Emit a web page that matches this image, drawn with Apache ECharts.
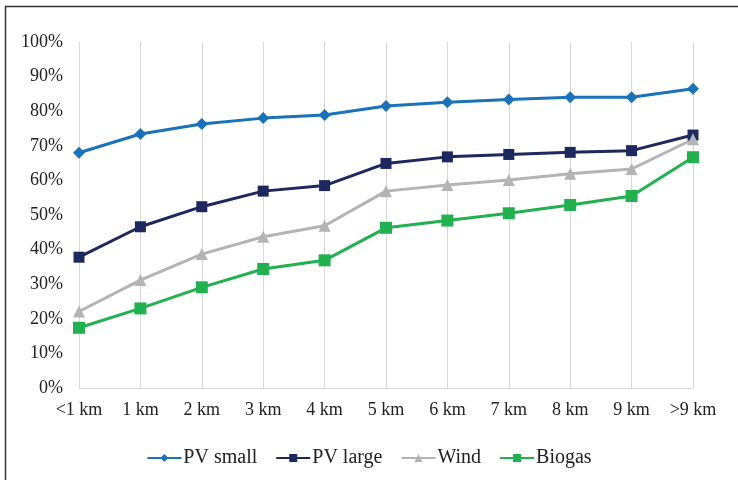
<!DOCTYPE html>
<html><head><meta charset="utf-8">
<script src="https://cdn.jsdelivr.net/npm/echarts@6/dist/echarts.min.js"></script>
<style>html,body{margin:0;padding:0;background:#fff}#c{width:738px;height:480px}</style>
</head><body><div id="c"></div>
<script>
const categories = ['<1 km','1 km','2 km','3 km','4 km','5 km','6 km','7 km','8 km','9 km','>9 km'];
const pvSmall = [68.0, 73.4, 76.3, 78.0, 78.9, 81.5, 82.6, 83.4, 84.0, 84.0, 86.5];
const pvLarge = [37.8, 46.6, 52.4, 56.9, 58.5, 64.9, 66.8, 67.5, 68.1, 68.6, 73.1];
const wind    = [22.1, 31.2, 38.7, 43.7, 46.9, 56.9, 58.7, 60.1, 61.9, 63.3, 71.9];
const biogas  = [17.4, 23.0, 29.1, 34.4, 36.9, 46.3, 48.4, 50.5, 52.9, 55.5, 66.7];
const yTicks = [0,10,20,30,40,50,60,70,80,90,100];

const font = '"Liberation Serif","Times New Roman",serif';
function s(name, data, color, symbol, size){
  return {name, type:'line', data, color, symbol, symbolSize:size,
    lineStyle:{width:3,color}, itemStyle:{color}, z:2};
}
const chart = echarts.init(document.getElementById('c'));
chart.setOption({
  animation:false,
  grid:{left:79,right:45,top:42,bottom:92,containLabel:false},
  xAxis:{type:'category',data:categories,boundaryGap:false,
    axisLine:{lineStyle:{color:'#d9d9d9',width:1}},axisTick:{show:false},
    splitLine:{show:true,lineStyle:{color:'#d9d9d9',width:1}},
    axisLabel:{color:'#222',fontFamily:font,fontSize:18,margin:13,interval:0}},
  yAxis:{type:'value',min:yTicks[0],max:yTicks[yTicks.length-1],interval:10,
    axisLine:{show:false},axisTick:{show:false},splitLine:{show:false},
    axisLabel:{color:'#222',fontFamily:font,fontSize:18,margin:16,formatter:v=>v+'%'}},
  legend:{bottom:7,left:'center',itemWidth:34,itemHeight:10,itemGap:18,
    textStyle:{fontFamily:font,fontSize:20,color:'#222',padding:[0,0,0,-3]},
    data:['PV small','PV large','Wind','Biogas']},
  graphic:[{type:'polyline',shape:{points:[[5.5,480],[5.5,6.5],[738,6.5]]},
    style:{stroke:'#333',lineWidth:1.5,fill:null}}],
  series:[
    s('PV small',pvSmall,'#1a72bb','diamond',12),
    s('PV large',pvLarge,'#1d2860','rect',11),
    s('Wind',wind,'#b4b4b4','triangle',12),
    s('Biogas',biogas,'#21b14e','rect',12)
  ]
});
</script></body></html>
